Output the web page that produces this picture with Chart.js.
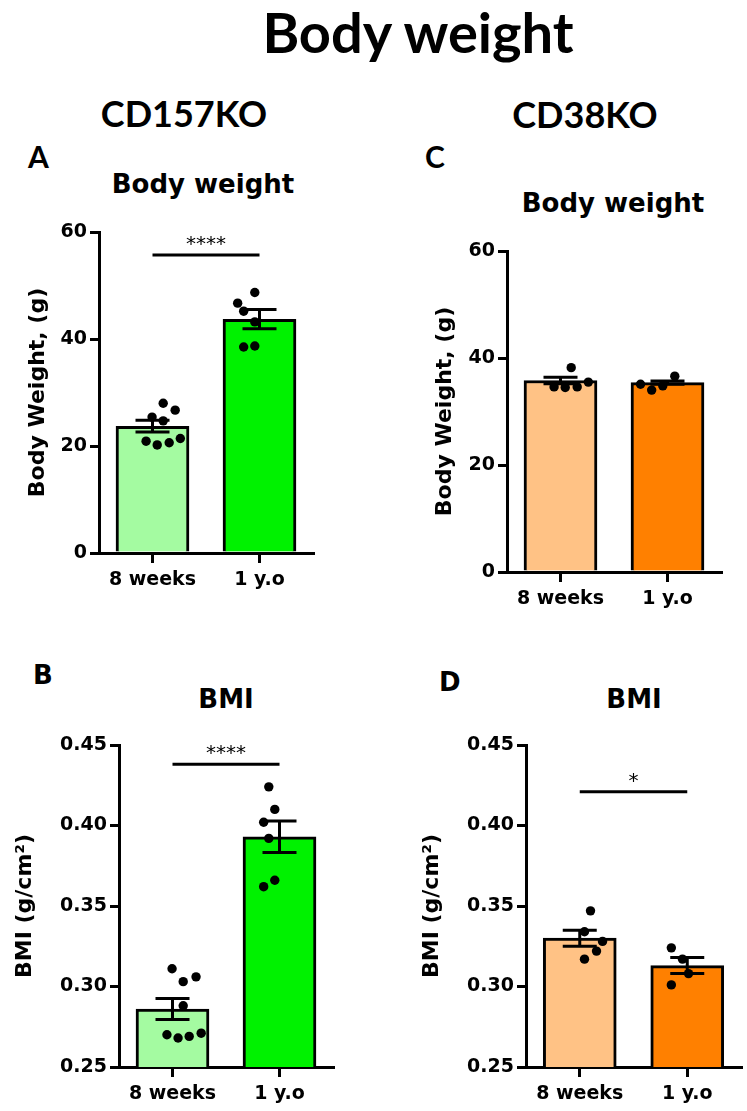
<!DOCTYPE html>
<html>
<head>
<meta charset="utf-8">
<script src="https://cdn.jsdelivr.net/npm/chart.js@4.4.0/dist/chart.umd.min.js"></script>
<style>
  body { margin: 0; width: 747px; height: 1111px; position: relative; background: #fff; overflow: hidden; }
  .lbl { position: absolute; white-space: nowrap; line-height: 1; color: #000; }
  .hdr { font-family: Lato, "Open Sans", sans-serif; font-weight: 700; }
  .ttl { font-family: "DejaVu Sans", sans-serif; font-weight: 700; font-size: 26px; }
  .mid { transform: translateX(-50%); }
  canvas { position: absolute; }
</style>
</head>
<body>
<div class="lbl hdr mid" style="left:418px;top:4px;font-size:56px">Body weight</div>
<div class="lbl hdr mid" style="left:184px;top:95px;font-size:36px">CD157KO</div>
<div class="lbl hdr mid" style="left:585px;top:96px;font-size:36px">CD38KO</div>
<div class="lbl hdr" style="left:28px;top:141px;font-size:30px">A</div>
<div class="lbl hdr" style="left:425px;top:141px;font-size:30px">C</div>
<div class="lbl ttl" style="left:33px;top:662px">B</div>
<div class="lbl ttl" style="left:439px;top:669px">D</div>
<div class="lbl ttl mid" style="left:203px;top:171px">Body weight</div>
<div class="lbl ttl mid" style="left:613px;top:190px">Body weight</div>
<div class="lbl ttl mid" style="left:226px;top:686px">BMI</div>
<div class="lbl ttl mid" style="left:634px;top:686px">BMI</div>

<canvas id="chartA" width="333" height="386" style="left:0;top:212px"></canvas>
<canvas id="chartC" width="341" height="386" style="left:400px;top:231px"></canvas>
<canvas id="chartB" width="353" height="387" style="left:0;top:725px"></canvas>
<canvas id="chartD" width="337" height="387" style="left:410px;top:725px"></canvas>

<script>
const groups = ['8 weeks', '1 y.o'];
const weightTicks = [0, 20, 40, 60];
const bmiTicks = [0.25, 0.30, 0.35, 0.40, 0.45];

// A - CD157KO body weight (g)
const cd157WeightMean = [23.7, 43.7];
const cd157WeightSem = [1.1, 1.8];
const cd157Weight8w = [28.0, 26.7, 25.4, 24.7, 20.9, 20.2, 20.6, 21.4];
const cd157Weight1y = [48.7, 46.7, 45.2, 43.2, 38.5, 38.7];
const cd157WeightJit8w = [0, 0.14, -0.13, 0, -0.2, -0.07, 0.07, 0.2];
const cd157WeightJit1y = [0.07, -0.13, -0.06, 0.07, -0.06, 0.07];

// B - CD157KO BMI
const cd157BmiMean = [0.286, 0.393];
const cd157BmiSem = [0.0065, 0.0098];
const cd157Bmi8w = [0.311, 0.303, 0.306, 0.288, 0.270, 0.268, 0.269, 0.271];
const cd157Bmi1y = [0.424, 0.410, 0.402, 0.392, 0.366, 0.362];
const cd157BmiJit8w = [-0.13, 0, 0.15, 0, -0.19, -0.06, 0.07, 0.21];
const cd157BmiJit1y = [0, 0.07, -0.06, 0, 0.07, -0.06];

// C - CD38KO body weight (g)
const cd38WeightMean = [35.8, 35.4];
const cd38WeightSem = [0.6, 0.3];
const cd38Weight8w = [38.2, 34.6, 34.5, 34.6, 35.5];
const cd38Weight1y = [35.1, 34.0, 34.8, 36.6];
const cd38WeightJit8w = [0, -0.2, -0.07, 0.07, 0.2];
const cd38WeightJit1y = [-0.19, -0.06, 0.07, 0.21];

// D - CD38KO BMI
const cd38BmiMean = [0.330, 0.313];
const cd38BmiSem = [0.005, 0.005];
const cd38Bmi8w = [0.347, 0.334, 0.328, 0.322, 0.317];
const cd38Bmi1y = [0.324, 0.317, 0.308, 0.301];
const cd38BmiJit8w = [0, -0.07, 0.14, 0.07, -0.07];
const cd38BmiJit1y = [-0.06, 0.07, 0.14, -0.06];

const greens = ['#a4fba1', '#00f200'];
const oranges = ['#ffc285', '#ff8000'];

// mean +/- SEM whiskers, drawn right after the bars
const semPlugin = {
  id: 'semBars',
  afterDatasetDraw(chart, args, opts) {
    if (args.index !== 0) return;
    const {ctx} = chart;
    const x = chart.scales.x, y = chart.scales.y;
    ctx.save();
    ctx.strokeStyle = '#000';
    ctx.lineWidth = 3;
    opts.mean.forEach((m, i) => {
      const px = x.getPixelForValue(i);
      const top = y.getPixelForValue(m + opts.sem[i]);
      const bot = y.getPixelForValue(m - opts.sem[i]);
      ctx.beginPath();
      ctx.moveTo(px, top); ctx.lineTo(px, bot);
      ctx.moveTo(px - 17, top); ctx.lineTo(px + 17, top);
      ctx.moveTo(px - 17, bot); ctx.lineTo(px + 17, bot);
      ctx.stroke();
    });
    ctx.restore();
  }
};

// significance bar with stars
const sigPlugin = {
  id: 'sigBar',
  afterDatasetsDraw(chart, args, opts) {
    if (!opts.label) return;
    const {ctx} = chart;
    const x = chart.scales.x, y = chart.scales.y;
    const yy = y.getPixelForValue(opts.level);
    const x0 = x.getPixelForValue(0), x1 = x.getPixelForValue(1);
    ctx.save();
    ctx.strokeStyle = '#000';
    ctx.lineWidth = 3;
    ctx.beginPath();
    ctx.moveTo(x0, yy); ctx.lineTo(x1, yy);
    ctx.stroke();
    ctx.fillStyle = '#000';
    ctx.font = '20px "DejaVu Sans"';
    ctx.textAlign = 'center';
    ctx.textBaseline = 'alphabetic';
    ctx.fillText(opts.label, (x0 + x1) / 2, yy - 5);
    ctx.restore();
  }
};

function makeChart(id, cfg) {
  const points = [];
  [cfg.pts8w, cfg.pts1y].forEach((vals, i) => {
    const jit = i === 0 ? cfg.jit8w : cfg.jit1y;
    vals.forEach((v, k) => points.push({x: i + jit[k], y: v}));
  });
  const font = (size) => ({family: 'DejaVu Sans', size: size, weight: 'bold'});

  return new Chart(document.getElementById(id), {
    type: 'bar',
    data: {
      labels: groups,
      datasets: [{
        data: cfg.mean,
        backgroundColor: cfg.colors,
        borderColor: '#000',
        borderWidth: 3,
        barThickness: 73,
        grouped: false,
        order: 2
      }, {
        type: 'scatter',
        data: points,
        xAxisID: 'xj',
        pointRadius: 4.7,
        pointBackgroundColor: '#000',
        pointBorderWidth: 0,
        order: 1
      }]
    },
    options: {
      responsive: false,
      animation: false,
      devicePixelRatio: 1,
      layout: {padding: {top: 20, right: cfg.padRight, bottom: 0, left: 0}},
      plugins: {
        legend: {display: false},
        tooltip: {enabled: false},
        semBars: {mean: cfg.mean, sem: cfg.sem},
        sigBar: {level: cfg.sigLevel, label: cfg.sigLabel}
      },
      scales: {
        x: {
          afterFit: s => { s.height = 45; },
          border: {color: '#000', width: 3},
          grid: {drawOnChartArea: false, offset: false, color: '#000', lineWidth: 3, tickLength: 10},
          ticks: {color: '#000', font: font(19), padding: 6}
        },
        xj: {type: 'linear', display: false, min: -0.5, max: 1.5},
        y: {
          min: cfg.ticks[0],
          max: cfg.ticks[cfg.ticks.length - 1],
          afterBuildTicks: s => { s.ticks = cfg.ticks.map(v => ({value: v})); },
          afterFit: s => { s.width = cfg.yWidth; },
          border: {color: '#000', width: 3},
          grid: {drawOnChartArea: false, color: '#000', lineWidth: 3, tickLength: 9},
          ticks: {color: '#000', font: font(19), padding: 3, callback: v => v.toFixed(cfg.decimals)},
          title: {display: true, text: cfg.yTitle, color: '#000', font: font(22), padding: {top: cfg.titlePad, bottom: 0}}
        }
      }
    },
    plugins: [semPlugin, sigPlugin]
  });
}

makeChart('chartA', {
  mean: cd157WeightMean, sem: cd157WeightSem,
  pts8w: cd157Weight8w, pts1y: cd157Weight1y, jit8w: cd157WeightJit8w, jit1y: cd157WeightJit1y,
  colors: greens, ticks: weightTicks, decimals: 0, yTitle: 'Body Weight, (g)',
  sigLevel: 55.7, sigLabel: '****', yWidth: 99, padRight: 20, titlePad: 25
});
makeChart('chartC', {
  mean: cd38WeightMean, sem: cd38WeightSem,
  pts8w: cd38Weight8w, pts1y: cd38Weight1y, jit8w: cd38WeightJit8w, jit1y: cd38WeightJit1y,
  colors: oranges, ticks: weightTicks, decimals: 0, yTitle: 'Body Weight, (g)',
  sigLevel: null, sigLabel: '', yWidth: 107, padRight: 20, titlePad: 32
});
makeChart('chartB', {
  mean: cd157BmiMean, sem: cd157BmiSem,
  pts8w: cd157Bmi8w, pts1y: cd157Bmi1y, jit8w: cd157BmiJit8w, jit1y: cd157BmiJit1y,
  colors: greens, ticks: bmiTicks, decimals: 2, yTitle: 'BMI (g/cm²)',
  sigLevel: 0.438, sigLabel: '****', yWidth: 119, padRight: 20, titlePad: 12
});
makeChart('chartD', {
  mean: cd38BmiMean, sem: cd38BmiSem,
  pts8w: cd38Bmi8w, pts1y: cd38Bmi1y, jit8w: cd38BmiJit8w, jit1y: cd38BmiJit1y,
  colors: oranges, ticks: bmiTicks, decimals: 2, yTitle: 'BMI (g/cm²)',
  sigLevel: 0.421, sigLabel: '*', yWidth: 116, padRight: 6, titlePad: 9
});
</script>
</body>
</html>
